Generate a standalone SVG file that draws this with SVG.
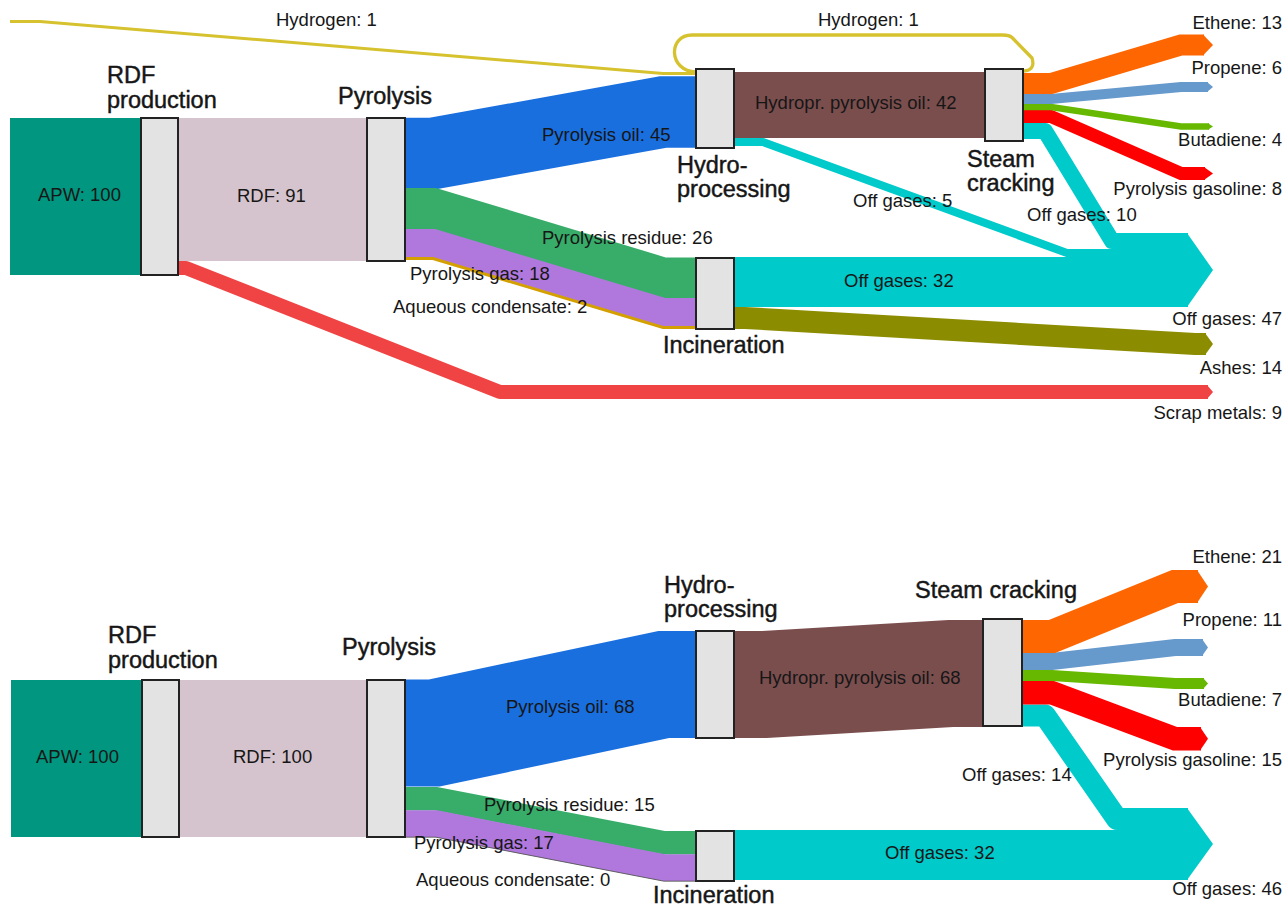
<svg xmlns="http://www.w3.org/2000/svg" width="1287" height="907" viewBox="0 0 1287 907">
<style>
text{font-family:"Liberation Sans",Arial,Helvetica,sans-serif;fill:#161616}
.l{font-size:18.5px}
.t{font-size:23.5px;stroke:#161616;stroke-width:0.45px}
.r{text-anchor:end}
.node{fill:#e3e3e3;stroke:#222;stroke-width:2}
.k{fill:none;stroke-linejoin:miter;stroke-miterlimit:20}
.rd{stroke-linejoin:round}
.teal{fill:#00967f}.rdf{fill:#d5c4cd}
.blue{stroke:#1a6fdf}.green{stroke:#38ad6a}.purple{stroke:#b078dc}.gold{stroke:#d49f00}
.hyd{stroke:#d6c22e}.brown{stroke:#7b4e4e}.cyan{stroke:#00caca}.olive{stroke:#8c8c00}
.scrap{stroke:#f04343}.orange{stroke:#fd6600}.prop{stroke:#6699cc}.buta{stroke:#66b800}.gas{stroke:#ff0000}
.fcyan{fill:#00caca}.folive{fill:#8c8c00}.fscrap{fill:#f04343}.forange{fill:#fd6600}.fprop{fill:#6699cc}.fbuta{fill:#66b800}.fgas{fill:#ff0000}
</style>
<g id="connectors">
<!-- top diagram -->
<rect class="teal" x="10" y="118" width="131" height="157"/>
<rect class="rdf" x="178" y="118" width="189" height="143"/>
<path class="k rd scrap" stroke-width="14" d="M178,268 H186 L500,392 H1208"/>
<polygon class="fscrap" points="1207,385 1213,392 1207,399"/>
<path class="k hyd" stroke-width="3" d="M10,21.5 H40 L663,73.5 H697"/>
<path class="k blue" stroke-width="71.5" d="M405,153.5 H433 L663,112 H696"/>
<path class="k green" stroke-width="41" d="M405,208.5 H433 L663,278 H696"/>
<path class="k purple" stroke-width="28" d="M405,243 H433 L663,312 H696"/>
<path class="k gold" stroke-width="3" d="M405,258.5 H433 L663,327.5 H696"/>
<path class="k brown" stroke-width="66" d="M734,105 H985"/>
<path class="k hyd rd" stroke-width="3.3" d="M1022,71 Q1036,71 1032,58 L1012,37.5 Q1009,35 1003,35 H692 C668,35 668,71 696,72"/>
<rect class="fcyan" x="1125" y="233" width="63" height="74"/>
<path class="k rd cyan" stroke-width="8" d="M734,142 H763 L1067,253 H1188"/>
<path class="k rd cyan" stroke-width="16" d="M1023,131 H1045 L1112,241 H1188"/>
<path class="k cyan" stroke-width="50" d="M734,282 H1188"/>
<polygon class="fcyan" points="1187,233 1213,270 1187,307"/>
<path class="k olive" stroke-width="22" d="M734,318 H745 L1195,344 H1206"/>
<polygon class="folive" points="1205,333 1213,344 1205,355"/>
<path class="k gas" stroke-width="13" d="M1023,116.5 H1051 L1181,173.5 H1205"/>
<polygon class="fgas" points="1204,167 1213,173.5 1204,180"/>
<path class="k buta" stroke-width="6.5" d="M1023,107 H1051 L1181,126.5 H1209"/>
<polygon class="fbuta" points="1208,123.2 1213,126.5 1208,129.8"/>
<path class="k prop" stroke-width="10" d="M1023,99 H1051 L1181,87 H1208"/>
<polygon class="fprop" points="1207,82 1213,87 1207,92"/>
<path class="k orange" stroke-width="21" d="M1023,83.5 H1051 L1181,45 H1204"/>
<polygon class="forange" points="1203,34.5 1213,45 1203,55.5"/>
<!-- bottom diagram -->
<rect class="teal" x="11" y="680" width="131" height="157"/>
<rect class="rdf" x="179" y="680" width="188" height="157"/>
<path class="k blue" stroke-width="107" d="M405,733 H434 L664,684.5 H696"/>
<path class="k green" stroke-width="23.5" d="M405,798.7 H436 L664,842.7 H696"/>
<path class="k purple" stroke-width="26.7" d="M405,823.7 H436 L664,867.7 H696"/>
<path class="k" stroke="#555" stroke-width="0.9" d="M405,837.2 H436 L664,881.2 H696"/>
<path class="k brown" stroke-width="107" d="M734,684.5 H765 L950,673.5 H983"/>
<rect class="fcyan" x="1125" y="808" width="63" height="72"/>
<path class="k rd cyan" stroke-width="22" d="M1022,715.5 H1045 L1117,819 H1188"/>
<path class="k cyan" stroke-width="50" d="M734,855 H1188"/>
<polygon class="fcyan" points="1187,808 1213,844 1187,880"/>
<path class="k gas" stroke-width="23.5" d="M1022,692.7 H1052 L1175,738.7 H1201"/>
<polygon class="fgas" points="1200,726.9 1208,738.7 1200,750.5"/>
<path class="k buta" stroke-width="11" d="M1022,675.5 H1052 L1175,683.5 H1204"/>
<polygon class="fbuta" points="1203,678 1208,683.5 1203,689"/>
<path class="k prop" stroke-width="17" d="M1022,661.5 H1052 L1175,647.5 H1203"/>
<polygon class="fprop" points="1202,639 1208,647.5 1202,656"/>
<path class="k orange" stroke-width="33" d="M1022,636.5 H1052 L1175,586.5 H1198"/>
<polygon class="forange" points="1197,570 1208,586.5 1197,603"/>
</g>
<g id="flow-labels">
<text class="l" x="276" y="26">Hydrogen: 1</text>
<text class="l" x="818" y="26">Hydrogen: 1</text>
<text class="l" x="38" y="201">APW: 100</text>
<text class="l" x="237" y="202">RDF: 91</text>
<text class="l" x="542" y="141">Pyrolysis oil: 45</text>
<text class="l" x="755" y="109">Hydropr. pyrolysis oil: 42</text>
<text class="l" x="542" y="244">Pyrolysis residue: 26</text>
<text class="l" x="410" y="280">Pyrolysis gas: 18</text>
<text class="l" x="393" y="313">Aqueous condensate: 2</text>
<text class="l" x="844" y="287">Off gases: 32</text>
<text class="l" x="853" y="207">Off gases: 5</text>
<text class="l" x="1027" y="221">Off gases: 10</text>
<text class="l r" x="1282" y="29">Ethene: 13</text>
<text class="l r" x="1282" y="74">Propene: 6</text>
<text class="l r" x="1282" y="146">Butadiene: 4</text>
<text class="l r" x="1282" y="195">Pyrolysis gasoline: 8</text>
<text class="l r" x="1282" y="325">Off gases: 47</text>
<text class="l r" x="1282" y="374">Ashes: 14</text>
<text class="l r" x="1282" y="419">Scrap metals: 9</text>
<text class="l" x="36" y="763">APW: 100</text>
<text class="l" x="233" y="763">RDF: 100</text>
<text class="l" x="506" y="713">Pyrolysis oil: 68</text>
<text class="l" x="759" y="684">Hydropr. pyrolysis oil: 68</text>
<text class="l" x="484" y="811">Pyrolysis residue: 15</text>
<text class="l" x="414" y="849">Pyrolysis gas: 17</text>
<text class="l" x="416" y="886">Aqueous condensate: 0</text>
<text class="l" x="885" y="859">Off gases: 32</text>
<text class="l" x="962" y="781">Off gases: 14</text>
<text class="l r" x="1282" y="563">Ethene: 21</text>
<text class="l r" x="1282" y="626">Propene: 11</text>
<text class="l r" x="1282" y="706">Butadiene: 7</text>
<text class="l r" x="1282" y="766">Pyrolysis gasoline: 15</text>
<text class="l r" x="1282" y="895">Off gases: 46</text>
</g>
<g id="rdf-production-1"><rect class="node" x="141" y="118" width="37" height="157"/><text class="t" x="107" y="83">RDF</text><text class="t" x="107" y="108">production</text></g>
<g id="pyrolysis-1"><rect class="node" x="367" y="118" width="38" height="143"/><text class="t" x="338" y="104">Pyrolysis</text></g>
<g id="hydroprocessing-1"><rect class="node" x="696" y="69" width="38" height="79"/><text class="t" x="677" y="173">Hydro-</text><text class="t" x="677" y="197">processing</text></g>
<g id="incineration-1"><rect class="node" x="696" y="258" width="38" height="71"/><text class="t" x="663" y="353">Incineration</text></g>
<g id="steam-cracking-1"><rect class="node" x="985" y="69" width="38" height="72"/><text class="t" x="967" y="167">Steam</text><text class="t" x="967" y="191">cracking</text></g>
<g id="rdf-production-2"><rect class="node" x="142" y="680" width="37" height="157"/><text class="t" x="108" y="643">RDF</text><text class="t" x="108" y="668">production</text></g>
<g id="pyrolysis-2"><rect class="node" x="367" y="680" width="38" height="157"/><text class="t" x="342" y="655">Pyrolysis</text></g>
<g id="hydroprocessing-2"><rect class="node" x="696" y="631" width="38" height="107"/><text class="t" x="664" y="593">Hydro-</text><text class="t" x="664" y="617">processing</text></g>
<g id="incineration-2"><rect class="node" x="696" y="831" width="38" height="50"/><text class="t" x="653" y="903">Incineration</text></g>
<g id="steam-cracking-2"><rect class="node" x="983" y="619" width="39" height="107"/><text class="t" x="915" y="598">Steam cracking</text></g>
</svg>
